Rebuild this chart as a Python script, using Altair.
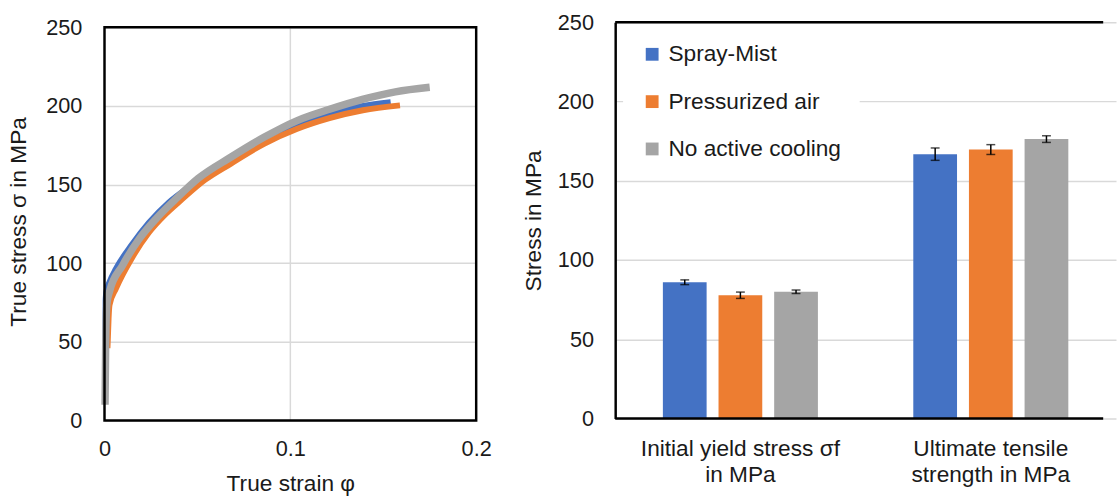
import altair as alt
import pandas as pd

# ---------------- Left panel: flow curves ----------------
spray_strain = [0.0003, 0.0006, 0.0010, 0.0027, 0.0062, 0.0150, 0.0239, 0.0345, 0.0450, 0.0560, 0.0680, 0.0858, 0.1034, 0.1210, 0.1390, 0.1540]
spray_stress = [30, 76, 82, 88, 96.5, 112.2, 125.7, 138.5, 148.0, 156.5, 165.5, 178.5, 188.0, 194.7, 199.9, 202.4]

air_strain = [0.0016, 0.0018, 0.0022, 0.0027, 0.0062, 0.0150, 0.0239, 0.0327, 0.0415, 0.0540, 0.0680, 0.0858, 0.1034, 0.1210, 0.1390, 0.1590]
air_stress = [46, 52, 65, 73.5, 84, 103.8, 119.5, 131.0, 140.4, 152.9, 163.3, 175.9, 185.3, 192.2, 197.2, 200.3]

none_strain = [0.0003, 0.0006, 0.0010, 0.0014, 0.0027, 0.0097, 0.0186, 0.0274, 0.0380, 0.0504, 0.0681, 0.0858, 0.1034, 0.1211, 0.1388, 0.1565, 0.1750]
none_stress = [10, 45, 68, 75, 82, 98.6, 115.3, 127.8, 140.4, 153.9, 167.5, 180.0, 190.5, 197.8, 204.1, 208.9, 211.8]

# ---------------- Right panel: bars ----------------
categories = ["Initial yield stress σf|in MPa", "Ultimate tensile|strength in MPa"]
series = ["Spray-Mist", "Pressurized air", "No active cooling"]
colors = ["#4472C4", "#ED7D31", "#A5A5A5"]
yield_values = [86.0, 77.8, 80.0]
yield_errors = [1.5, 2.0, 1.1]
uts_values = [166.8, 169.7, 176.3]
uts_errors = [3.9, 3.1, 2.1]

TEXT = "#1a1a1a"
GRID = "#d9d9d9"
FONT = "Liberation Sans"
FRAME_W = 2.5

# ---------- left chart ----------
LW, LH = 377, 404          # plot group; the framed area (0..250) is 399 px tall
FRAMED_H = 399
y_top = 250 * LH / FRAMED_H


def curve_df(strain, stress):
    return pd.DataFrame({"strain": strain, "stress": stress, "i": list(range(len(strain)))})


x_left_scale = alt.Scale(domain=[0, 0.2], nice=False)
y_left_scale = alt.Scale(domain=[0, y_top], nice=False)
x_left_axis = alt.Axis(values=[0, 0.1, 0.2], format=".1~f", title="True strain φ",
                       grid=False, ticks=False, domain=False, labelFlush=False,
                       labelFontSize=22, titleFontSize=23, labelPadding=18, titlePadding=14,
                       titleFontWeight="normal")
y_left_axis = alt.Axis(values=[0, 50, 100, 150, 200, 250], title="True stress σ in MPa",
                       grid=True, gridColor=GRID, gridWidth=1.5, ticks=False, domain=False,
                       labelFontSize=22, titleFontSize=23, labelPadding=23, titlePadding=15,
                       titleFontWeight="normal")

frame_df = pd.DataFrame({"strain": [0.0], "x1": [0.2], "stress": [0.0], "y1": [250.0]})
vgrid_df = pd.DataFrame({"strain": [0.1], "stress": [0.0], "y1": [250.0]})

l_vgrid = alt.Chart(vgrid_df).mark_rule(color=GRID, strokeWidth=1.5).encode(
    x=alt.X("strain:Q", scale=x_left_scale, axis=x_left_axis),
    y=alt.Y("stress:Q", scale=y_left_scale, axis=y_left_axis),
    y2="y1:Q")
l_blue = alt.Chart(curve_df(spray_strain, spray_stress)).mark_line(
    color=colors[0], strokeWidth=6, interpolate="monotone").encode(x="strain:Q", y="stress:Q", order="i:Q")
l_orange = alt.Chart(curve_df(air_strain, air_stress)).mark_line(
    color=colors[1], strokeWidth=6, interpolate="monotone").encode(x="strain:Q", y="stress:Q", order="i:Q")
l_grey = alt.Chart(curve_df(none_strain, none_stress)).mark_line(
    color=colors[2], strokeWidth=7.5, interpolate="monotone").encode(x="strain:Q", y="stress:Q", order="i:Q")
l_frame = alt.Chart(frame_df).mark_rect(filled=False, stroke="black", strokeWidth=FRAME_W).encode(
    x="strain:Q", x2="x1:Q", y="stress:Q", y2="y1:Q")

left = alt.layer(l_vgrid, l_blue, l_orange, l_grey, l_frame).properties(width=LW, height=LH)

# ---------- right chart ----------
rows = []
for c, vals, errs in [(categories[0], yield_values, yield_errors), (categories[1], uts_values, uts_errors)]:
    for s, v, e in zip(series, vals, errs):
        rows.append({"cat": c, "series": s, "value": v, "lo": v - e, "hi": v + e})
bar_df = pd.DataFrame(rows)

RW, RH = 495, 402
x_right = alt.X("cat:N",
                scale=alt.Scale(domain=categories, range=[0, 508], paddingInner=0, paddingOuter=0),
                axis=alt.Axis(title=None, labelExpr="split(datum.label, '|')", labelAngle=0,
                              domain=False, ticks=False, labelPadding=19, labelFontSize=23,
                              labelLineHeight=27, labelBaseline="top", labelLimit=0))
x_off = alt.XOffset("series:N", scale=alt.Scale(domain=series, paddingInner=0.214, paddingOuter=0.857))
y_right = alt.Y("value:Q",
                scale=alt.Scale(domain=[0, 250], nice=False),
                axis=alt.Axis(values=[0, 50, 100, 150, 200, 250], title="Stress in MPa",
                              grid=True, gridColor=GRID, gridWidth=1.5, ticks=False,
                              domainColor="black", domainWidth=FRAME_W,
                              labelFontSize=22, titleFontSize=23, labelPadding=22, titlePadding=12,
                              titleFontWeight="normal"))

bars = alt.Chart(bar_df).mark_bar().encode(
    x=x_right, xOffset=x_off, y=y_right,
    color=alt.Color("series:N", scale=alt.Scale(domain=series, range=colors),
                    legend=alt.Legend(title=None, orient="none", legendX=8, legendY=3,
                                      fillColor="white", padding=18, symbolType="square",
                                      symbolSize=169, symbolStrokeWidth=0, labelFontSize=23,
                                      rowPadding=24, labelOffset=5, labelColor=TEXT,
                                      labelFont=FONT, labelLimit=0)))
err_rule = alt.Chart(bar_df).mark_rule(color="black", strokeWidth=1.5).encode(
    x="cat:N", xOffset="series:N", y="lo:Q", y2="hi:Q")
err_lo = alt.Chart(bar_df).mark_tick(color="black", thickness=1.5, size=9, orient="horizontal").encode(
    x="cat:N", xOffset="series:N", y="lo:Q")
err_hi = alt.Chart(bar_df).mark_tick(color="black", thickness=1.5, size=9, orient="horizontal").encode(
    x="cat:N", xOffset="series:N", y="hi:Q")
one = pd.DataFrame({"a": [0]})
frame_bottom = alt.Chart(one).mark_rule(color="black", strokeWidth=FRAME_W).encode(
    y=alt.datum(0), x=alt.value(0), x2=alt.value(RW))
frame_top = alt.Chart(one).mark_rule(color="black", strokeWidth=FRAME_W).encode(
    y=alt.datum(250), x=alt.value(0), x2=alt.value(RW))

right = alt.layer(bars, err_rule, err_lo, err_hi, frame_bottom, frame_top).properties(
    width=RW, height=RH)

chart = alt.hconcat(left, right, spacing=30).resolve_legend(color="independent").properties(
    padding={"left": 7, "top": 7, "right": 0, "bottom": 0}
).configure(font=FONT).configure_axis(
    labelColor=TEXT, titleColor=TEXT, labelFont=FONT, titleFont=FONT
).configure_view(stroke="transparent", fill="white")

chart.save("out.html", embed_options={"renderer": "svg", "actions": False})
